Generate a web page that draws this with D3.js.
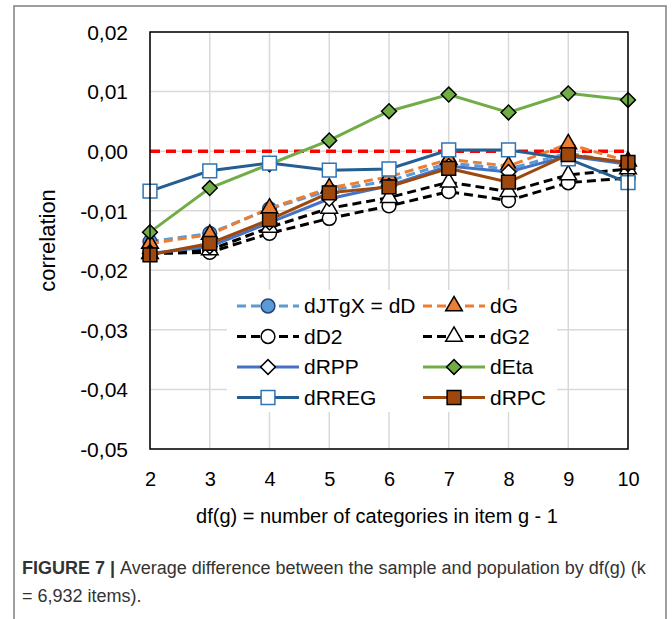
<!DOCTYPE html>
<html>
<head>
<meta charset="utf-8">
<script src="https://cdn.jsdelivr.net/npm/d3@7"></script>
<style>
  body { margin: 0; background: #fff; }
  svg { display: block; font-family: "Liberation Sans", Arial, sans-serif; }
</style>
</head>
<body>
<svg id="chart" width="672" height="619"></svg>
<script>
// df(g) values on the x axis
var dfg = [2, 3, 4, 5, 6, 7, 8, 9, 10];

// average differences
var dJTgX = [-0.0152, -0.0138, -0.0097, -0.0066, -0.0050, -0.0020, -0.0030, -0.0003, -0.0022];
var dG    = [-0.0155, -0.0140, -0.0096, -0.0062, -0.0043, -0.0014, -0.0025, 0.0012, -0.0017];
var dD2   = [-0.0172, -0.0170, -0.0138, -0.0113, -0.0092, -0.0068, -0.0083, -0.0053, -0.0045];
var dG2   = [-0.0172, -0.0166, -0.0128, -0.0096, -0.0078, -0.0052, -0.0068, -0.0040, -0.0030];
var dRPP  = [-0.0172, -0.0160, -0.0120, -0.0080, -0.0058, -0.0025, -0.0035, -0.0008, -0.0022];
var dEta  = [-0.0136, -0.0062, -0.0022, 0.0018, 0.0067, 0.0095, 0.0065, 0.0097, 0.0086];
var dRREG = [-0.0067, -0.0033, -0.0020, -0.0032, -0.0030, 0.0002, 0.0002, -0.0013, -0.0053];
var dRPC  = [-0.0174, -0.0155, -0.0115, -0.0070, -0.0060, -0.0029, -0.0052, -0.0006, -0.0019];
var zeroLine = [0, 0, 0, 0, 0, 0, 0, 0, 0];

var yTicks = [0.02, 0.01, 0, -0.01, -0.02, -0.03, -0.04, -0.05];

// name, values, line colour, dashed?, marker, marker fill, marker stroke
var series = [
    {name: "dJTgX = dD", v: dJTgX, color: "#5b9bd5", dash: true,  mark: "circle",   fill: "#5b9bd5", ms: "#264478"},
    {name: "dG",         v: dG,    color: "#ed7d31", dash: true,  mark: "triangle", fill: "#ed7d31", ms: "#000"},
    {name: "dD2",        v: dD2,   color: "#000",    dash: true,  mark: "circle",   fill: "#fff",    ms: "#000"},
    {name: "dG2",        v: dG2,   color: "#000",    dash: true,  mark: "triangle", fill: "#fff",    ms: "#000"},
    {name: "dRPP",       v: dRPP,  color: "#4472c4", dash: false, mark: "diamond",  fill: "#fff",    ms: "#000"},
    {name: "dEta",       v: dEta,  color: "#70ad47", dash: false, mark: "diamond",  fill: "#70ad47", ms: "#000"},
    {name: "dRREG",      v: dRREG, color: "#255e91", dash: false, mark: "square",   fill: "#fff",    ms: "#2e75b6"},
    {name: "dRPC",       v: dRPC,  color: "#9e480e", dash: false, mark: "square",   fill: "#9e480e", ms: "#000"}
];

var svg = d3.select("#chart");
// plot box (note: "top" is taken by window.top, so pTop etc.)
var pLeft = 150, pRight = 628, pTop = 32, pBottom = 449;

var x = d3.scaleLinear().domain([2, 10]).range([pLeft, pRight]);
var y = d3.scaleLinear().domain([-0.05, 0.02]).range([pBottom, pTop]);

// outer figure frame
svg.append("rect").attr("x", 14).attr("y", 6).attr("width", 652).attr("height", 640)
    .style("fill", "none").style("stroke", "#7f7f7f").style("stroke-width", 1.5);

// grid
var grid = svg.append("g");
grid.selectAll("line.h").data(yTicks).enter().append("line")
    .attr("x1", pLeft).attr("x2", pRight)
    .attr("y1", function(d){ return y(d); }).attr("y2", function(d){ return y(d); })
    .style("stroke", "#d9d9d9").style("stroke-width", 1.5);
grid.selectAll("line.v").data(dfg).enter().append("line")
    .attr("y1", pTop).attr("y2", pBottom)
    .attr("x1", function(d){ return x(d); }).attr("x2", function(d){ return x(d); })
    .style("stroke", "#d9d9d9").style("stroke-width", 1.5);

// axes (labels only, the frame is drawn below)
var yAxis = svg.append("g").attr("transform", "translate(" + (pLeft - 22) + ",0)")
    .call(d3.axisLeft(y).tickValues(yTicks).tickSize(0)
        .tickFormat(function(d){ return d3.format(".2f")(d).replace(".", ",").replace("−", "-"); }));
yAxis.select(".domain").remove();
yAxis.selectAll("text").style("font-size", "21px").style("fill", "#000")
    .attr("x", 0).attr("dy", "0.35em");

var xAxis = svg.append("g").attr("transform", "translate(0," + (pBottom + 23) + ")")
    .call(d3.axisBottom(x).tickValues(dfg).tickSize(0).tickFormat(d3.format("d")));
xAxis.select(".domain").remove();
xAxis.selectAll("text").style("font-size", "20px").style("fill", "#000").attr("y", 0).attr("dy", "0.71em");

svg.append("text").attr("x", 377).attr("y", 523).attr("text-anchor", "middle")
    .style("font-size", "20px").text("df(g) = number of categories in item g - 1");
svg.append("text").attr("transform", "translate(55," + ((pTop + pBottom) / 2) + ") rotate(-90)")
    .attr("text-anchor", "middle").style("font-size", "22px").text("correlation");

// zero reference
var line = d3.line().x(function(d, i){ return x(dfg[i]); }).y(function(d){ return y(d); });
svg.append("path").datum(zeroLine).attr("d", line)
    .style("fill", "none").style("stroke", "#ff0000").style("stroke-width", 3.5)
    .style("stroke-dasharray", "10,6");

var sym = {
    circle: d3.symbol().type(d3.symbolCircle).size(150),
    triangle: d3.symbol().type(d3.symbolTriangle).size(120),
    diamond: d3.symbol().type(d3.symbolSquare).size(110),
    square: d3.symbol().type(d3.symbolSquare).size(190)
};

function drawMarker(g, s, cx, cy) {
    var m = g.append("path").attr("d", sym[s.mark]())
        .attr("transform", "translate(" + cx + "," + cy + ")" + (s.mark == "diamond" ? " rotate(45)" : ""))
        .style("fill", s.fill).style("stroke", s.ms).style("stroke-width", 1.5);
    return m;
}

series.forEach(function(s) {
    var g = svg.append("g");
    g.append("path").datum(s.v).attr("d", line)
        .style("fill", "none").style("stroke", s.color).style("stroke-width", 3)
        .style("stroke-dasharray", s.dash ? "9,5" : null);
    s.v.forEach(function(d, i) {
        drawMarker(g, s, x(dfg[i]), y(d));
    });
});

// plot frame
svg.append("rect").attr("x", pLeft).attr("y", pTop).attr("width", pRight - pLeft).attr("height", pBottom - pTop)
    .style("fill", "none").style("stroke", "#000").style("stroke-width", 1.5);

// legend
var leg = svg.append("g");
leg.append("rect").attr("x", 227).attr("y", 290).attr("width", 330).attr("height", 122).style("fill", "#fff");
series.forEach(function(s, i) {
    var col = i % 2, row = Math.floor(i / 2);
    var lx = col == 0 ? 237 : 423, ly = 306 + row * 30.5;
    leg.append("line").attr("x1", lx).attr("x2", lx + 62).attr("y1", ly).attr("y2", ly)
        .style("stroke", s.color).style("stroke-width", 3)
        .style("stroke-dasharray", s.dash ? "9,5" : null);
    drawMarker(leg, s, lx + 31, ly);
    leg.append("text").attr("x", lx + 67).attr("y", ly).attr("dy", "0.35em")
        .style("font-size", "21px").text(s.name);
});

// caption
var cap = svg.append("text").attr("x", 22).attr("y", 574).style("font-size", "18px").style("fill", "#333");
cap.append("tspan").style("font-weight", "bold").text("FIGURE 7 | ");
cap.append("tspan").text("Average difference between the sample and population by df(g) (k");
svg.append("text").attr("x", 22).attr("y", 602).style("font-size", "18px").style("fill", "#333")
    .text("= 6,932 items).");
</script>
</body>
</html>
